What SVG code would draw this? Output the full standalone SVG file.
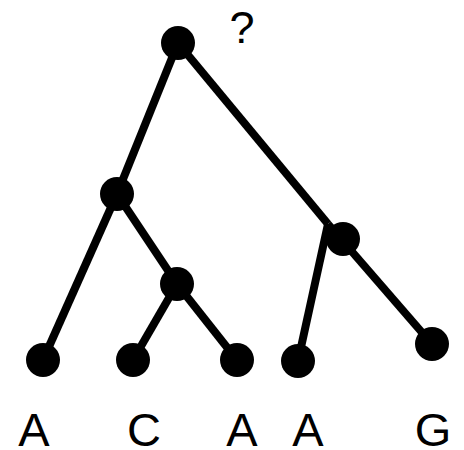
<svg xmlns="http://www.w3.org/2000/svg" width="464" height="450" viewBox="0 0 464 450">
<style>
.e{stroke:#000;stroke-width:8;fill:none}
.n{fill:#000}
.t{font-family:"Liberation Sans",Arial,sans-serif;font-size:47px;fill:#000;text-anchor:middle}
</style>
<rect width="464" height="450" fill="#fff"/>
<g id="edges">
<line class="e" x1="178" y1="43" x2="117" y2="194"/>
<line class="e" x1="178" y1="43" x2="328" y2="224"/>
<line class="e" x1="117" y1="194" x2="43" y2="360"/>
<line class="e" x1="117" y1="194" x2="177" y2="284"/>
<line class="e" x1="177" y1="284" x2="133" y2="360"/>
<line class="e" x1="177" y1="284" x2="237" y2="360"/>
<line class="e" x1="328" y1="224" x2="298" y2="361"/>
<line class="e" x1="328" y1="224" x2="432" y2="344"/>
</g>
<g id="root"><circle class="n" cx="178" cy="43" r="17"/><text class="t" x="242" y="43" style="font-size:45px">?</text></g>
<g id="n1"><circle class="n" cx="117" cy="194" r="17"/></g>
<g id="n2"><circle class="n" cx="177" cy="284" r="17"/></g>
<g id="n3"><circle class="n" cx="343" cy="239" r="17"/></g>
<g id="leaf1"><circle class="n" cx="43" cy="360" r="17"/><text class="t" x="34" y="446">A</text></g>
<g id="leaf2"><circle class="n" cx="133" cy="360" r="17"/><text class="t" x="144" y="446">C</text></g>
<g id="leaf3"><circle class="n" cx="237" cy="360" r="17"/><text class="t" x="242" y="446">A</text></g>
<g id="leaf4"><circle class="n" cx="298" cy="361" r="17"/><text class="t" x="308" y="446">A</text></g>
<g id="leaf5"><circle class="n" cx="432" cy="344" r="17"/><text class="t" x="433" y="446">G</text></g>
</svg>
